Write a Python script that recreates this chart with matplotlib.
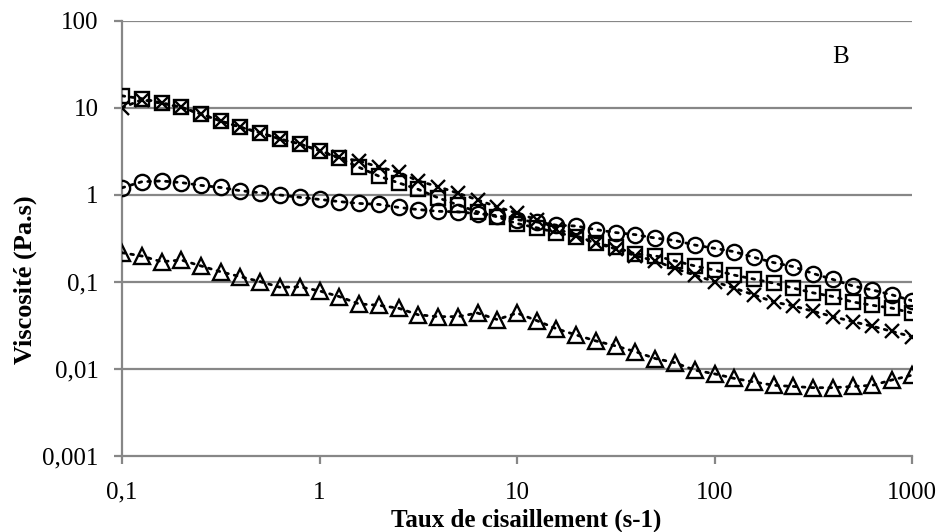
import numpy as np
import matplotlib
matplotlib.use("Agg")
import matplotlib.pyplot as plt
from matplotlib.ticker import FixedLocator, FixedFormatter, NullLocator

plt.rcParams['font.family'] = ['Liberation Serif', 'DejaVu Serif']

# shear rate: 10 points per decade, 0.1 .. 1000
shear_rate = [round(10 ** (-1 + k / 10), 4) for k in range(41)]

visc_square = [13.8, 12.8, 11.5, 10.2, 8.5, 7.1, 6.0, 5.2, 4.4, 3.86, 3.23, 2.64, 2.08, 1.65,
               1.38, 1.16, 0.93, 0.77, 0.64, 0.56, 0.47, 0.42, 0.37, 0.33, 0.28, 0.25, 0.21,
               0.20, 0.175, 0.153, 0.137, 0.120, 0.108, 0.097, 0.085, 0.075, 0.068, 0.059,
               0.054, 0.050, 0.044]
visc_cross = [10.0, 12.5, 11.3, 10.2, 8.5, 7.1, 6.0, 5.2, 4.4, 3.86, 3.23, 2.7, 2.46, 2.1,
              1.83, 1.45, 1.25, 1.05, 0.88, 0.73, 0.62, 0.52, 0.41, 0.34, 0.28, 0.24, 0.20,
              0.175, 0.143, 0.120, 0.101, 0.085, 0.071, 0.059, 0.053, 0.046, 0.040, 0.035,
              0.031, 0.027, 0.0235]
visc_circle = [1.21, 1.42, 1.45, 1.39, 1.29, 1.22, 1.12, 1.06, 1.0, 0.94, 0.89, 0.84, 0.80,
               0.78, 0.72, 0.68, 0.65, 0.64, 0.61, 0.58, 0.52, 0.49, 0.45, 0.44, 0.40, 0.37,
               0.35, 0.32, 0.30, 0.266, 0.244, 0.223, 0.192, 0.167, 0.150, 0.125, 0.107,
               0.090, 0.081, 0.071, 0.061]
visc_triangle = [0.217, 0.199, 0.171, 0.179, 0.153, 0.131, 0.115, 0.101, 0.087, 0.088, 0.079,
                 0.068, 0.056, 0.054, 0.050, 0.042, 0.040, 0.040, 0.044, 0.037, 0.044, 0.036,
                 0.029, 0.0246, 0.021, 0.0184, 0.0158, 0.0132, 0.0118, 0.0097, 0.0088,
                 0.0078, 0.0071, 0.0065, 0.0063, 0.0061, 0.0061, 0.0063, 0.0065, 0.0075,
                 0.0085]

x_ticks = [0.1, 1, 10, 100, 1000]
x_ticklabels = ["0,1", "1", "10", "100", "1000"]
y_ticks = [0.001, 0.01, 0.1, 1, 10, 100]
y_ticklabels = ["0,001", "0,01", "0,1", "1", "10", "100"]

fig = plt.figure(figsize=(9.43, 5.32), dpi=100)
ax = fig.add_axes([122 / 943, 76 / 532, 790 / 943, 435 / 532])

grid_c = "#878787"
ax.set_xscale("log")
ax.set_yscale("log")
ax.set_xlim(0.1, 1000)
ax.set_ylim(0.001, 100)

for yv in y_ticks[1:]:
    ax.axhline(yv, color=grid_c, lw=1.6, zorder=1)

common = dict(color="black", linestyle=(0, (1, 2.2)), linewidth=2.0,
              markerfacecolor="none", markeredgecolor="black",
              markeredgewidth=1.7, zorder=3, dash_capstyle="round")
ax.plot(shear_rate, visc_square, marker="s", markersize=10.5, **common)
ax.plot(shear_rate, visc_cross, marker="x", markersize=10.5, **common)
ax.plot(shear_rate, visc_circle, marker="o", markersize=11, **common)
ax.plot(shear_rate, visc_triangle, marker="^", markersize=11.5, **common)

for side in ["top", "right"]:
    ax.spines[side].set_visible(False)
for side in ["left", "bottom"]:
    ax.spines[side].set_color(grid_c)
    ax.spines[side].set_linewidth(1.6)

ax.xaxis.set_major_locator(FixedLocator(x_ticks))
ax.xaxis.set_major_formatter(FixedFormatter(x_ticklabels))
ax.yaxis.set_major_locator(FixedLocator(y_ticks))
ax.yaxis.set_major_formatter(FixedFormatter(y_ticklabels))
ax.xaxis.set_minor_locator(NullLocator())
ax.yaxis.set_minor_locator(NullLocator())
ax.tick_params(axis="both", which="major", direction="out", length=6, width=1.6,
               color=grid_c, labelsize=18, labelcolor="black")
ax.tick_params(axis="x", pad=12.5)
ax.tick_params(axis="y", pad=11)

ax.set_xlabel("Taux de cisaillement (s-1)", fontsize=18, fontweight="bold")
ax.xaxis.set_label_coords(0.511, -0.147)
ax.xaxis.label.set_va("center")
ax.set_ylabel("Viscosité (Pa.s)", fontsize=19, fontweight="bold")
ax.yaxis.set_label_coords(-0.123, 0.405)
ax.yaxis.label.set_va("center")

ax.text(0.909, 0.917, "B", transform=ax.transAxes, fontsize=18, ha="center", va="center")

fig.savefig("out.png", dpi=100)
